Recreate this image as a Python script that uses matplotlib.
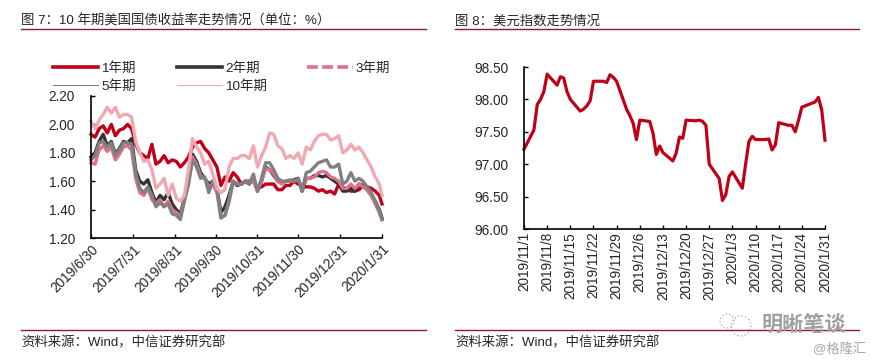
import matplotlib
matplotlib.use("Agg")
from matplotlib import pyplot as plt
from matplotlib.lines import Line2D
from matplotlib.patches import Ellipse

plt.rcParams['font.family'] = ['Liberation Sans', 'Noto Sans CJK SC', 'DejaVu Sans']

# left chart, values every 3 days from 2019/6/30, last point 2020/1/31
yield_days = [0, 3, 6, 9, 12, 15, 18, 21, 24, 27, 30, 33, 36, 39, 42, 45, 48, 51, 54, 57, 60, 63, 66, 69, 72, 75,
              78, 81, 84, 87, 90, 93, 96, 99, 102, 105, 108, 111, 114, 117, 120, 123, 126, 129, 132, 135, 138, 141,
              144, 147, 150, 153, 156, 159, 162, 165, 168, 171, 174, 177, 180, 183, 186, 189, 192, 195, 198, 201,
              204, 207, 210, 213, 215]
y1 = [1.93, 1.91, 1.97, 1.99, 1.94, 2.00, 1.92, 1.96, 1.97, 2.00, 1.97, 1.86, 1.80, 1.78, 1.76, 1.86, 1.72, 1.74,
      1.78, 1.73, 1.75, 1.74, 1.70, 1.73, 1.77, 1.84, 1.87, 1.88, 1.83, 1.80, 1.75, 1.70, 1.57, 1.63, 1.60, 1.66,
      1.63, 1.58, 1.60, 1.60, 1.60, 1.55, 1.56, 1.58, 1.58, 1.58, 1.54, 1.54, 1.57, 1.57, 1.60, 1.58, 1.57, 1.56,
      1.56, 1.55, 1.53, 1.54, 1.52, 1.53, 1.51, 1.58, 1.56, 1.54, 1.53, 1.53, 1.54, 1.57, 1.56, 1.55, 1.53, 1.50,
      1.44]
y2 = [1.77, 1.80, 1.88, 1.93, 1.85, 1.88, 1.79, 1.83, 1.88, 1.87, 1.90, 1.68, 1.60, 1.58, 1.61, 1.52, 1.45, 1.50,
      1.47, 1.52, 1.44, 1.40, 1.37, 1.48, 1.60, 1.79, 1.74, 1.66, 1.62, 1.58, 1.60, 1.55, 1.38, 1.42, 1.50, 1.60,
      1.57, 1.58, 1.60, 1.58, 1.62, 1.53, 1.60, 1.70, 1.68, 1.64, 1.60, 1.59, 1.60, 1.60, 1.61, 1.62, 1.53, 1.62,
      1.62, 1.64, 1.64, 1.63, 1.64, 1.62, 1.60, 1.58, 1.53, 1.53, 1.55, 1.53, 1.58, 1.57, 1.54, 1.50, 1.46, 1.40,
      1.34]
y3 = [1.73, 1.72, 1.82, 1.85, 1.81, 1.84, 1.75, 1.79, 1.84, 1.85, 1.82, 1.62, 1.52, 1.50, 1.55, 1.47, 1.44, 1.47,
      1.42, 1.46, 1.40, 1.38, 1.35, 1.47, 1.58, 1.77, 1.72, 1.64, 1.62, 1.56, 1.58, 1.52, 1.35, 1.36, 1.45, 1.60,
      1.58, 1.58, 1.60, 1.59, 1.60, 1.53, 1.60, 1.69, 1.68, 1.65, 1.60, 1.58, 1.60, 1.60, 1.60, 1.61, 1.55, 1.62,
      1.62, 1.63, 1.66, 1.67, 1.66, 1.63, 1.62, 1.60, 1.55, 1.55, 1.58, 1.55, 1.58, 1.56, 1.54, 1.50, 1.44, 1.38,
      1.33]
y5 = [1.75, 1.78, 1.87, 1.88, 1.84, 1.87, 1.78, 1.82, 1.87, 1.87, 1.86, 1.66, 1.55, 1.52, 1.56, 1.50, 1.42, 1.45,
      1.42, 1.44, 1.37, 1.36, 1.33, 1.46, 1.58, 1.75, 1.70, 1.62, 1.63, 1.52, 1.60, 1.55, 1.34, 1.36, 1.47, 1.60,
      1.58, 1.58, 1.60, 1.58, 1.65, 1.53, 1.62, 1.73, 1.73, 1.68, 1.62, 1.60, 1.60, 1.61, 1.60, 1.62, 1.53, 1.66,
      1.67, 1.70, 1.73, 1.74, 1.75, 1.70, 1.70, 1.72, 1.58, 1.60, 1.66, 1.60, 1.62, 1.60, 1.56, 1.52, 1.46, 1.39,
      1.33]
y10 = [2.02, 1.97, 2.03, 2.07, 2.12, 2.08, 2.12, 2.05, 2.07, 2.07, 2.05, 1.88, 1.80, 1.74, 1.75, 1.68, 1.55, 1.58,
       1.62, 1.50, 1.58, 1.48, 1.46, 1.50, 1.68, 1.90, 1.84, 1.80, 1.72, 1.74, 1.65, 1.55, 1.52, 1.54, 1.70, 1.76,
       1.76, 1.78, 1.78, 1.76, 1.85, 1.70, 1.78, 1.84, 1.94, 1.93, 1.85, 1.83, 1.76, 1.78, 1.76, 1.80, 1.72, 1.84,
       1.82, 1.88, 1.92, 1.93, 1.93, 1.89, 1.90, 1.92, 1.80, 1.82, 1.86, 1.82, 1.84, 1.80, 1.75, 1.70, 1.63, 1.58,
       1.50]
yield_ticks = [0, 31, 62, 92, 123, 153, 184, 215]
yield_tick_labels = ['2019/6/30', '2019/7/31', '2019/8/31', '2019/9/30', '2019/10/31', '2019/11/30', '2019/12/31',
                     '2020/1/31']

# right chart, days from 2019/11/1
usd_days = [0, 3, 4, 5, 6, 7, 10, 11, 12, 13, 14, 17, 18, 19, 20, 21, 24, 25, 26, 27, 28, 31, 32, 33, 34, 35, 38,
            39, 40, 41, 42, 45, 46, 47, 48, 49, 52, 53, 54, 55, 56, 59, 60, 61, 62, 63, 66, 67, 68, 69, 70, 73, 74,
            75, 76, 77, 80, 81, 82, 83, 84, 87, 88, 89, 90, 91]
usd = [97.23, 97.53, 97.92, 98.00, 98.12, 98.39, 98.22, 98.35, 98.33, 98.12, 98.00, 97.82, 97.85, 97.90, 97.98,
       98.28, 98.28, 98.26, 98.38, 98.34, 98.28, 97.85, 97.75, 97.63, 97.38, 97.68, 97.66, 97.48, 97.15, 97.28,
       97.18, 97.05, 97.17, 97.42, 97.40, 97.68, 97.67, 97.68, 97.66, 97.60, 97.00, 96.78, 96.44, 96.53, 96.81,
       96.88, 96.63, 97.00, 97.35, 97.43, 97.38, 97.38, 97.39, 97.22, 97.30, 97.64, 97.60, 97.60, 97.50, 97.68,
       97.88, 97.94, 97.96, 98.03, 97.84, 97.37]
usd_ticks = [0, 7, 14, 21, 28, 35, 42, 49, 56, 63, 70, 77, 84, 91]
usd_tick_labels = ['2019/11/1', '2019/11/8', '2019/11/15', '2019/11/22', '2019/11/29', '2019/12/6', '2019/12/13',
                   '2019/12/20', '2019/12/27', '2020/1/3', '2020/1/10', '2020/1/17', '2020/1/24', '2020/1/31']

W, H = 874, 363
RED = '#c00018'
RULE = '#8a1c2c'
TEXT = '#262626'


def style_axis(ax):
    ax.spines['top'].set_visible(False)
    ax.spines['right'].set_visible(False)
    ax.spines['left'].set_linewidth(1.2)
    ax.spines['bottom'].set_linewidth(1.2)
    ax.tick_params(direction='in', length=3, width=1, labelsize=9.8, labelcolor=TEXT)
    ax.tick_params(axis='y', pad=11.5)
    ax.patch.set_alpha(0)


def header_footer(x0, x1, title):
    fig.add_artist(Line2D([x0 / W, x1 / W], [1 - 29 / H, 1 - 29 / H], color=RULE, lw=1))
    fig.add_artist(Line2D([x0 / W, x1 / W], [1 - 330 / H, 1 - 330 / H], color=RULE, lw=1))
    fig.text(x0 / W, 1 - 21 / H, title, fontsize=9.65, color=TEXT, va='center', ha='left')
    fig.text(x0 / W, 1 - 342.5 / H, '资料来源：Wind，中信证券研究部', fontsize=9.65, color=TEXT, va='center', ha='left')


fig = plt.figure(figsize=(W / 100, H / 100), dpi=100)

ax1 = fig.add_axes([91 / W, 1 - 238 / H, 291 / W, 142 / H])
ax1.plot(yield_days, y1, color=RED, lw=2.4, clip_on=False)
ax1.plot(yield_days, y2, color='#333333', lw=2.4, clip_on=False)
ax1.plot(yield_days, y3, color='#e0708a', lw=2.4, clip_on=False)
ax1.plot(yield_days, y5, color='#808080', lw=2.4, clip_on=False)
ax1.plot(yield_days, y10, color='#f0a9b2', lw=2.4, clip_on=False)
ax1.set_xlim(0, 215)
ax1.set_ylim(1.2, 2.2)
ax1.set_yticks([1.2, 1.4, 1.6, 1.8, 2.0, 2.2])
ax1.set_yticklabels(['1.20', '1.40', '1.60', '1.80', '2.00', '2.20'])
ax1.set_xticks(yield_ticks)
ax1.set_xticklabels(yield_tick_labels, rotation=45, ha='right', rotation_mode='anchor')
style_axis(ax1)
ax1.tick_params(axis='x', pad=3)

handles = [Line2D([], [], color=RED, lw=2.6),
           Line2D([], [], color='#808080', lw=0.8),
           Line2D([], [], color='#333333', lw=2.6),
           Line2D([], [], color='#f0a9b2', lw=0.8),
           Line2D([], [], color='#e0708a', lw=2.6, dashes=(3, 1.2))]
fig.legend(handles, ['1年期', '5年期', '2年期', '10年期', '3年期'], ncol=3, loc='upper left',
           bbox_to_anchor=(53 / W, 1 - 62 / H), frameon=False, fontsize=9.7, labelcolor=TEXT,
           handlelength=3.35, handletextpad=0.25, columnspacing=3.0, labelspacing=0.42,
           borderpad=0, borderaxespad=0)

ax2 = fig.add_axes([524 / W, 1 - 229 / H, 301 / W, 162 / H])
ax2.plot(usd_days, usd, color=RED, lw=2.3, clip_on=False)
ax2.set_xlim(0, 91)
ax2.set_ylim(96, 98.5)
ax2.set_yticks([96, 96.5, 97, 97.5, 98, 98.5])
ax2.set_yticklabels(['96.00', '96.50', '97.00', '97.50', '98.00', '98.50'])
ax2.set_xticks(usd_ticks)
ax2.set_xticklabels(usd_tick_labels, rotation=90)
style_axis(ax2)
ax2.tick_params(axis='x', pad=2)

header_footer(21, 426, '图 7：10 年期美国国债收益率走势情况（单位：%）')
header_footer(455, 859, '图 8：美元指数走势情况')

# watermark
fig.add_artist(Ellipse((741 / W, 1 - 326 / H), 20 / W, 20 / H, fill=False, ec='#b5b5b5', lw=1, ls=':'))
fig.add_artist(Ellipse((727 / W, 1 - 321 / H), 14 / W, 14 / H, fill=False, ec='#b5b5b5', lw=1, ls=':'))
fig.text(804 / W, 1 - 325 / H, '明晰笔谈', fontsize=15.2, color='#a0a0a0', ha='center', va='center', fontweight='bold')
fig.text(866 / W, 1 - 349 / H, '@格隆汇', fontsize=9.5, color='#a8a8a8', ha='right', va='center')

fig.savefig('out.png', dpi=100)
